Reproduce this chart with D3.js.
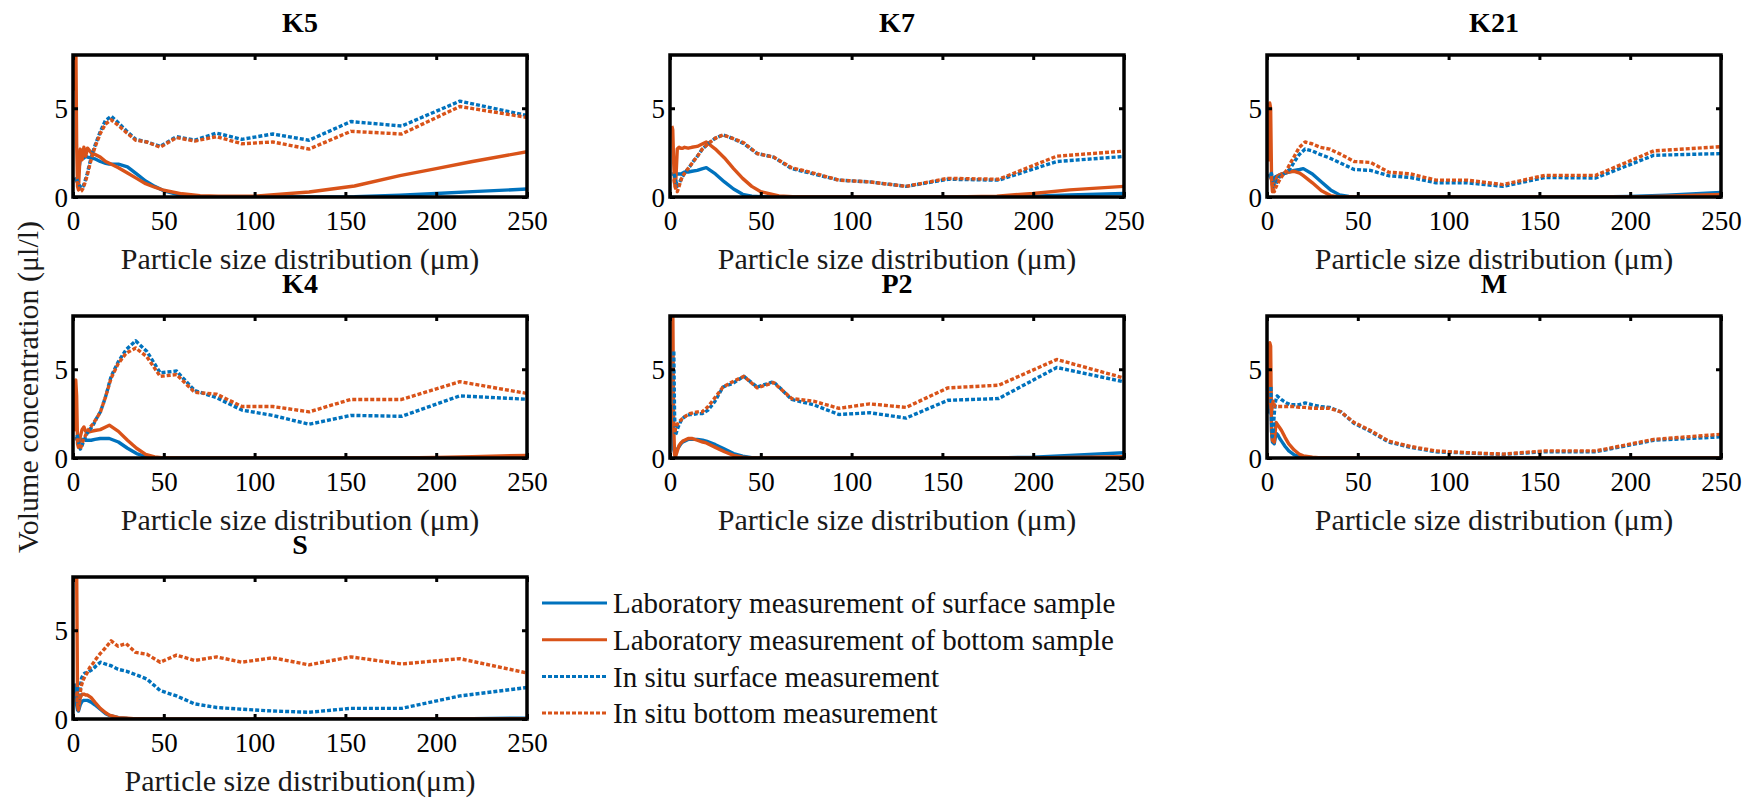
<!DOCTYPE html>
<html>

<head>
	<meta charset="utf-8">
	<title>Particle size distribution</title>
	<script src="https://cdn.jsdelivr.net/npm/d3@7"></script>
	<style>
		body { margin: 0; background: #fff; }
	</style>
</head>

<body>

	<svg id="chart" width="1750" height="801"></svg>

	<script>
		// sites, one panel each
		var sites = ['K5', 'K7', 'K21', 'K4', 'P2', 'M', 'S'];

		// particle size (um) for the laboratory curves and the in situ bins
		var labSizes = [1, 1.5, 2, 2.5, 3, 4, 5, 6, 7, 8, 10, 12, 15, 18, 20, 25, 30, 35, 40, 45, 50, 60, 70, 80, 100, 130, 155, 180, 200, 220, 250];
		var insituSizes = [2.1, 2.5, 2.9, 3.4, 4.0, 4.7, 5.6, 6.6, 7.8, 9.2, 10.8, 12.8, 15.1, 17.8, 21, 24.8, 29.2, 34.5, 40.7, 48, 57, 67, 79, 93, 110, 130, 153, 181, 213, 252];

		var xTicks = [0, 50, 100, 150, 200, 250];
		var yTicks = [0, 5];

		// K5
		var k5LabSurface = [1.1, 1.0, 0.9, 1.0, 1.4, 2.1, 2.3, 2.2, 2.3, 2.25, 2.2, 2.15, 2.0, 1.9, 1.85, 1.85, 1.7, 1.3, 0.9, 0.6, 0.35, 0.08, 0.02, 0, 0, 0, 0.02, 0.1, 0.2, 0.3, 0.45];
		var k5LabBottom = [6, 9.5, 3, 0.6, 0.4, 2.7, 2.1, 2.8, 2.3, 2.75, 2.5, 2.4, 2.25, 2.0, 1.9, 1.65, 1.35, 1.05, 0.75, 0.55, 0.38, 0.18, 0.08, 0.05, 0.05, 0.28, 0.62, 1.2, 1.6, 2.0, 2.55];
		var k5InsituSurface = [1.0, 0.9, 0.8, 0.7, 0.55, 0.5, 0.6, 0.9, 1.3, 1.9, 2.5, 3.1, 3.7, 4.3, 4.55, 4.2, 3.75, 3.25, 3.1, 2.85, 3.4, 3.2, 3.6, 3.25, 3.55, 3.2, 4.25, 4.0, 5.4, 4.55];
		var k5InsituBottom = [0.9, 0.8, 0.6, 0.4, 0.3, 0.35, 0.5, 0.8, 1.2, 1.8, 2.4, 3.0, 3.6, 4.1, 4.35, 4.05, 3.65, 3.2, 3.1, 2.8, 3.35, 3.15, 3.4, 3.0, 3.1, 2.7, 3.7, 3.55, 5.1, 4.45];

		// K7
		var k7LabSurface = [1.3, 1.3, 1.3, 1.3, 1.3, 1.3, 1.3, 1.3, 1.35, 1.4, 1.4, 1.45, 1.5, 1.6, 1.65, 1.3, 0.85, 0.45, 0.15, 0.05, 0.02, 0, 0, 0, 0, 0, 0, 0.02, 0.05, 0.12, 0.2];
		var k7LabBottom = [4.0, 3.8, 2.0, 0.8, 0.5, 2.7, 2.8, 2.75, 2.75, 2.8, 2.75, 2.8, 2.85, 3.0, 3.1, 2.7, 2.2, 1.6, 1.05, 0.6, 0.3, 0.06, 0.01, 0, 0, 0, 0, 0.05, 0.2, 0.4, 0.6];
		var k7InsituSurface = [1.3, 1.2, 1.0, 0.8, 0.6, 0.7, 0.9, 1.1, 1.3, 1.5, 1.7, 2.0, 2.3, 2.7, 3.0, 3.3, 3.5, 3.3, 3.0, 2.45, 2.25, 1.6, 1.3, 0.95, 0.85, 0.6, 1.0, 0.95, 2.0, 2.3];
		var k7InsituBottom = [1.0, 0.8, 0.6, 0.4, 0.3, 0.5, 0.8, 1.1, 1.3, 1.5, 1.7, 2.0, 2.3, 2.7, 3.0, 3.3, 3.5, 3.3, 3.05, 2.45, 2.25, 1.65, 1.35, 0.95, 0.85, 0.6, 1.05, 1.0, 2.3, 2.6];

		// K21
		var k21LabSurface = [1.3, 1.2, 1.1, 1.0, 1.0, 1.1, 1.15, 1.2, 1.25, 1.3, 1.35, 1.4, 1.5, 1.55, 1.6, 1.3, 0.85, 0.4, 0.12, 0.03, 0, 0, 0, 0, 0, 0, 0, 0, 0.03, 0.1, 0.25];
		var k21LabBottom = [2.0, 5.3, 5.0, 1.0, 0.3, 0.8, 1.0, 1.2, 1.25, 1.3, 1.35, 1.4, 1.45, 1.35, 1.2, 0.8, 0.35, 0.08, 0.01, 0, 0, 0, 0, 0, 0, 0, 0, 0, 0, 0.05, 0.15];
		var k21InsituSurface = [1.4, 1.3, 1.1, 0.9, 0.6, 0.7, 0.9, 1.1, 1.2, 1.3, 1.4, 1.6, 2.0, 2.4, 2.7, 2.6, 2.4, 2.2, 1.9, 1.55, 1.5, 1.2, 1.1, 0.8, 0.8, 0.6, 1.1, 1.07, 2.35, 2.45];
		var k21InsituBottom = [1.1, 1.0, 0.7, 0.5, 0.3, 0.5, 0.7, 0.9, 1.1, 1.3, 1.5, 1.9, 2.3, 2.8, 3.1, 3.0, 2.8, 2.7, 2.4, 2.0, 1.95, 1.4, 1.3, 0.95, 0.95, 0.7, 1.22, 1.22, 2.6, 2.85];

		// K4
		var k4LabSurface = [1.1, 1.1, 1.1, 1.0, 0.9, 1.0, 1.05, 1.05, 1.0, 1.0, 1.0, 1.05, 1.1, 1.1, 1.1, 0.9, 0.55, 0.25, 0.08, 0.02, 0, 0, 0, 0, 0, 0, 0, 0, 0, 0.02, 0.05];
		var k4LabBottom = [1.5, 4.4, 3.5, 0.8, 0.6, 1.2, 1.6, 1.75, 1.5, 1.45, 1.5, 1.55, 1.6, 1.75, 1.85, 1.5, 1.0, 0.55, 0.2, 0.06, 0.01, 0, 0, 0, 0, 0, 0, 0, 0.03, 0.08, 0.15];
		var k4InsituSurface = [1.3, 1.2, 1.0, 0.7, 0.5, 0.6, 0.9, 1.1, 1.4, 1.6, 1.8, 2.2, 2.6, 3.4, 4.6, 5.4, 6.1, 6.6, 6.0, 4.8, 4.9, 3.8, 3.4, 2.7, 2.4, 1.9, 2.4, 2.35, 3.5, 3.3];
		var k4InsituBottom = [1.1, 1.0, 0.8, 0.6, 0.5, 0.7, 1.0, 1.2, 1.5, 1.7, 1.9, 2.2, 2.6, 3.4, 4.5, 5.3, 5.9, 6.2, 5.7, 4.6, 4.7, 3.7, 3.6, 2.9, 2.9, 2.6, 3.3, 3.3, 4.3, 3.6];

		// P2
		var p2LabSurface = [3.0, 1.5, 0.5, 0.3, 0.3, 0.5, 0.65, 0.8, 0.9, 0.95, 1.05, 1.05, 1.05, 1.0, 0.95, 0.75, 0.5, 0.25, 0.1, 0.02, 0, 0, 0, 0, 0, 0, 0, 0, 0.05, 0.15, 0.3];
		var p2LabBottom = [8.5, 9.0, 2.0, 0.2, 0.05, 0.4, 0.7, 0.85, 0.95, 1.0, 1.1, 1.1, 1.0, 0.9, 0.85, 0.6, 0.35, 0.15, 0.05, 0, 0, 0, 0, 0, 0, 0, 0, 0, 0, 0.03, 0.08];
		var p2InsituSurface = [6.0, 2.5, 1.3, 1.4, 1.6, 1.8, 2.0, 2.2, 2.3, 2.4, 2.45, 2.45, 2.5, 2.5, 2.7, 3.2, 4.0, 4.2, 4.6, 4.0, 4.3, 3.3, 3.0, 2.45, 2.55, 2.25, 3.25, 3.35, 5.1, 4.25];
		var p2InsituBottom = [2.0, 1.4, 1.6, 1.8, 1.9, 2.0, 2.1, 2.2, 2.3, 2.4, 2.5, 2.55, 2.6, 2.6, 2.9, 3.4, 4.0, 4.3, 4.6, 3.95, 4.25, 3.35, 3.2, 2.8, 3.05, 2.85, 3.95, 4.1, 5.55, 4.45];

		// M
		var mLabSurface = [2.5, 4.2, 4.0, 1.5, 0.9, 0.8, 1.4, 1.3, 1.1, 0.95, 0.65, 0.4, 0.18, 0.08, 0.05, 0.02, 0.01, 0, 0, 0, 0, 0, 0, 0, 0, 0, 0, 0, 0, 0, 0];
		var mLabBottom = [3.0, 6.5, 6.3, 1.5, 1.0, 0.9, 2.0, 1.85, 1.7, 1.55, 1.15, 0.8, 0.45, 0.2, 0.12, 0.04, 0.01, 0, 0, 0, 0, 0, 0, 0, 0, 0, 0, 0, 0, 0, 0];
		var mInsituSurface = [4.0, 2.0, 1.2, 1.5, 2.5, 3.2, 3.5, 3.4, 3.3, 3.2, 3.1, 3.0, 3.0, 3.0, 3.1, 3.0, 2.9, 2.85, 2.6, 1.95, 1.5, 0.9, 0.6, 0.35, 0.28, 0.2, 0.35, 0.35, 1.0, 1.2];
		var mInsituBottom = [3.0, 2.5, 3.0, 3.2, 3.0, 2.9, 2.9, 2.9, 2.9, 2.9, 2.9, 2.9, 2.9, 2.85, 2.85, 2.8, 2.8, 2.8, 2.6, 2.0, 1.55, 0.95, 0.65, 0.4, 0.3, 0.22, 0.4, 0.4, 1.05, 1.35];

		// S
		var sLabSurface = [2.0, 1.5, 0.8, 0.5, 0.45, 0.8, 1.0, 1.05, 1.05, 1.05, 0.95, 0.8, 0.55, 0.3, 0.2, 0.08, 0.03, 0.01, 0, 0, 0, 0, 0, 0, 0, 0, 0, 0, 0, 0.02, 0.05];
		var sLabBottom = [8.5, 9.0, 8.5, 1.0, 0.5, 1.2, 1.4, 1.4, 1.35, 1.35, 1.2, 0.95, 0.6, 0.35, 0.22, 0.08, 0.04, 0.01, 0, 0, 0, 0, 0, 0, 0, 0, 0, 0, 0, 0, 0.02];
		var sInsituSurface = [1.8, 1.2, 0.5, 1.0, 1.8, 2.3, 2.5, 2.6, 2.6, 2.7, 2.8, 3.0, 3.2, 3.1, 3.0, 2.8, 2.7, 2.5, 2.25, 1.6, 1.3, 0.85, 0.65, 0.55, 0.45, 0.38, 0.6, 0.6, 1.3, 1.8];
		var sInsituBottom = [1.5, 0.8, 0.5, 0.9, 1.5, 1.9, 2.2, 2.4, 2.6, 2.9, 3.1, 3.4, 3.7, 4.0, 4.4, 4.1, 4.25, 3.75, 3.65, 3.2, 3.6, 3.3, 3.5, 3.2, 3.45, 3.05, 3.5, 3.1, 3.4, 2.55];

		var legendLabels = ['Laboratory measurement of surface sample', 'Laboratory measurement of bottom sample', 'In situ surface measurement', 'In situ bottom measurement'];

		var labSurface = [k5LabSurface, k7LabSurface, k21LabSurface, k4LabSurface, p2LabSurface, mLabSurface, sLabSurface];
		var labBottom = [k5LabBottom, k7LabBottom, k21LabBottom, k4LabBottom, p2LabBottom, mLabBottom, sLabBottom];
		var insituSurface = [k5InsituSurface, k7InsituSurface, k21InsituSurface, k4InsituSurface, p2InsituSurface, mInsituSurface, sInsituSurface];
		var insituBottom = [k5InsituBottom, k7InsituBottom, k21InsituBottom, k4InsituBottom, p2InsituBottom, mInsituBottom, sInsituBottom];

		var serif = '"Liberation Serif", "DejaVu Serif", serif';
		var blue = '#0072BD';
		var orange = '#D95319';
		var styles = [
			{ color: blue, dash: null },
			{ color: orange, dash: null },
			{ color: blue, dash: '4,2' },
			{ color: orange, dash: '4,2' }
		];

		var colLeft = [73, 670, 1267];
		var rowTop = [55, 316, 577];
		var w = 454, h = 142;

		var svg = d3.select('#chart').style('font-family', serif);

		var x = d3.scaleLinear().domain([0, 250]).range([0, w]);
		var y = d3.scaleLinear().domain([0, 8]).range([h, 0]);

		var line = d3.line()
			.x(function(d) { return x(d[0]); })
			.y(function(d) { return y(d[1]); });

		sites.forEach(function(site, i) {
			var g = svg.append('g')
				.attr('transform', 'translate(' + colLeft[i % 3] + ',' + rowTop[Math.floor(i / 3)] + ')');

			g.append('clipPath')
				.attr('id', 'clip' + i)
				.append('rect')
				.attr('width', w)
				.attr('height', h);

			var series = [
				d3.zip(labSizes, labSurface[i]),
				d3.zip(labSizes, labBottom[i]),
				d3.zip(insituSizes, insituSurface[i]),
				d3.zip(insituSizes, insituBottom[i])
			];

			g.append('g')
				.attr('clip-path', 'url(#clip' + i + ')')
				.selectAll('path')
				.data(series)
				.enter()
				.append('path')
				.attr('d', line)
				.style('fill', 'none')
				.style('stroke', function(d, j) { return styles[j].color; })
				.style('stroke-width', 3.4)
				.style('stroke-dasharray', function(d, j) { return styles[j].dash; })
				.style('stroke-linejoin', 'round');

			// axes with inward ticks
			var bottom = g.append('g')
				.attr('transform', 'translate(0,' + h + ')')
				.call(d3.axisBottom(x).tickValues(xTicks).tickSize(-5).tickFormat(d3.format('d')));

			g.append('g')
				.call(d3.axisTop(x).tickValues(xTicks).tickSize(-5).tickFormat(''));

			var left = g.append('g')
				.call(d3.axisLeft(y).tickValues(yTicks).tickSize(-5).tickFormat(d3.format('d')));

			g.append('g')
				.attr('transform', 'translate(' + w + ',0)')
				.call(d3.axisRight(y).tickValues(yTicks).tickSize(-5).tickFormat(''));

			bottom.selectAll('text')
				.attr('y', 33)
				.attr('dy', null);
			left.selectAll('text')
				.attr('x', -5)
				.attr('dy', '0.34em');

			g.selectAll('.domain').remove();
			g.selectAll('.tick text')
				.style('font-family', serif)
				.style('font-size', '27px')
				.style('fill', '#000');
			g.selectAll('.tick line')
				.style('stroke', '#000')
				.style('stroke-width', 3);

			g.append('rect')
				.attr('width', w)
				.attr('height', h)
				.style('fill', 'none')
				.style('stroke', '#000')
				.style('stroke-width', 3.5);

			g.append('text')
				.attr('x', w / 2)
				.attr('y', -23)
				.attr('text-anchor', 'middle')
				.style('font-family', serif)
				.style('font-size', '28px')
				.style('font-weight', 'bold')
				.text(site);

			g.append('text')
				.attr('x', w / 2)
				.attr('y', h + 72)
				.attr('text-anchor', 'middle')
				.style('font-family', serif)
				.style('font-size', '30px')
				.style('fill', '#1a1a1a')
				.text(site == 'S' ? 'Particle size distribution(\u03bcm)' : 'Particle size distribution (\u03bcm)');
		});

		svg.append('text')
			.attr('transform', 'translate(38,387) rotate(-90)')
			.attr('text-anchor', 'middle')
			.style('font-family', serif)
			.style('font-size', '30px')
			.style('fill', '#1a1a1a')
			.text('Volume concentration (\u03bcl/l)');

		// legend
		var legend = svg.append('g')
			.attr('transform', 'translate(542,603)')
			.selectAll('g')
			.data(legendLabels)
			.enter()
			.append('g')
			.attr('transform', function(d, i) { return 'translate(0,' + (i * 36.7) + ')'; });

		legend.append('line')
			.attr('x1', 0)
			.attr('x2', 65)
			.style('stroke', function(d, i) { return styles[i].color; })
			.style('stroke-width', 3)
			.style('stroke-dasharray', function(d, i) { return styles[i].dash; });

		legend.append('text')
			.attr('x', 71)
			.attr('dy', '0.35em')
			.style('font-family', serif)
			.style('font-size', '29px')
			.style('fill', '#111')
			.text(function(d) { return d; });
	</script>
</body>

</html>
